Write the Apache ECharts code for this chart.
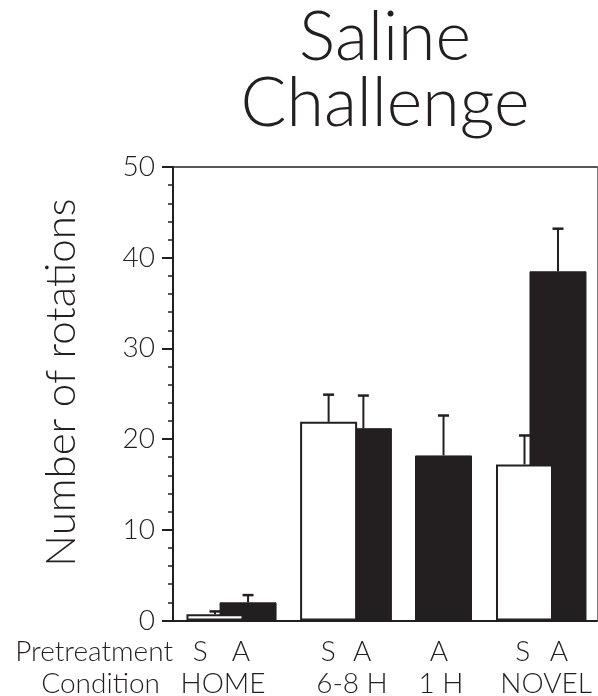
<!DOCTYPE html>
<html><head><meta charset="utf-8">
<script src="https://cdn.jsdelivr.net/npm/echarts@6/dist/echarts.min.js"></script>
<style>html,body{margin:0;padding:0;background:#fff}#c{width:598px;height:696px}</style>
</head><body><div id="c"></div>
<script>
// ---- data ----
const conditions = ['HOME', '6-8 H', '1 H', 'NOVEL'];
const pretreatments = ['S', 'A'];
const salineMean = [0.7, 21.9, null, 17.2];
const salineSem  = [0.3, 3.0, null, 3.2];
const amphMean   = [2.0, 21.2, 18.2, 38.5];
const amphSem    = [0.8, 3.6, 4.4, 4.7];
const yTicks = [0, 10, 20, 30, 40, 50];

// ---- layout (x axis runs 0..100 across the plot) ----
const barX = { S: [9.9, 36.7, null, 82.9], A: [17.7, 44.9, 63.8, 90.8] };
const pretreatLabelX = { S: [6.4, 36.6, null, 82.5], A: [16.0, 44.6, 62.7, 91.0] };
const conditionLabelX = [11.8, 42.2, 63.2, 88.0];

const INK = '#231f20';
const FONT = "Lato, 'DejaVu Sans', sans-serif";
const W = 300;

function bars(key, means) {
  const out = [];
  means.forEach((m, i) => { if (m != null) out.push([barX[key][i], m]); });
  return out;
}
function errs(key, means, sems) {
  const out = [];
  means.forEach((m, i) => { if (m != null) out.push([barX[key][i], m, sems[i]]); });
  return out;
}
const labelItems = [];
const labelTexts = [];
conditions.forEach((c, i) => {
  [['S', salineMean], ['A', amphMean]].forEach(([k, arr]) => {
    if (arr[i] != null) { labelItems.push([pretreatLabelX[k][i], 0]); labelTexts.push(pretreatments[k === 'S' ? 0 : 1]); }
  });
});
conditions.forEach((c, i) => { labelItems.push([conditionLabelX[i], 1]); labelTexts.push(c); });

function errRender(params, api) {
  const x = api.value(0), m = api.value(1), s = api.value(2);
  const b = api.coord([x, m]), t = api.coord([x, m + s]);
  return { type: 'group', children: [
    { type: 'line', shape: { x1: b[0], y1: b[1], x2: t[0], y2: t[1] }, style: { stroke: INK, lineWidth: 2 } },
    { type: 'line', shape: { x1: t[0] - 5.5, y1: t[1], x2: t[0] + 5.5, y2: t[1] }, style: { stroke: INK, lineWidth: 2.5 } }
  ]};
}

const chart = echarts.init(document.getElementById('c'), null, { renderer: 'canvas' });
chart.setOption({
  animation: false,
  backgroundColor: '#fff',
  grid: { left: 173, right: 1, top: 167, bottom: 75.5, containLabel: false },
  xAxis: [
    { type: 'value', min: 0, max: 100, axisLine: { show: true, onZero: false, lineStyle: { color: INK, width: 2 } },
      axisTick: { show: false }, axisLabel: { show: false }, splitLine: { show: false } },
    { type: 'value', position: 'top', min: 0, max: 100, axisLine: { show: true, onZero: false, lineStyle: { color: INK, width: 1.5 } },
      axisTick: { show: false }, axisLabel: { show: false }, splitLine: { show: false } }
  ],
  yAxis: [
    { type: 'value', min: yTicks[0], max: yTicks[yTicks.length - 1], interval: 10,
      axisLine: { show: true, onZero: false, lineStyle: { color: INK, width: 2 } },
      axisTick: { show: true, inside: false, length: 11, lineStyle: { color: INK, width: 2 } },
      minorTick: { show: true, splitNumber: 5, length: 5, lineStyle: { color: INK, width: 1.5 } },
      axisLabel: { margin: 18, color: INK, fontSize: 28, fontFamily: FONT, fontWeight: W },
      splitLine: { show: false } },
    { type: 'value', position: 'right', min: 0, max: 50,
      axisLine: { show: true, onZero: false, lineStyle: { color: '#777', width: 1 } },
      axisTick: { show: false }, axisLabel: { show: false }, splitLine: { show: false } }
  ],
  series: [
    { type: 'custom', name: 'S error', z: 1, renderItem: errRender, data: errs('S', salineMean, salineSem),
      encode: { x: 0, y: [1, 2] }, silent: true },
    { type: 'bar', name: 'A', z: 2, barWidth: 57, barGap: '-100%', data: bars('A', amphMean),
      itemStyle: { color: INK, borderColor: INK, borderWidth: 1 } },
    { type: 'bar', name: 'S', z: 3, barWidth: 57, barGap: '-100%', data: bars('S', salineMean),
      itemStyle: { color: '#fff', borderColor: INK, borderWidth: 2 } },
    { type: 'custom', name: 'A error', z: 4, renderItem: errRender, data: errs('A', amphMean, amphSem),
      encode: { x: 0, y: [1, 2] }, silent: true },
    { type: 'custom', name: 'labels', z: 5, silent: true, clip: false, data: labelItems, encode: { x: 0, y: 1 },
      renderItem: (params, api) => {
        const p = api.coord([api.value(0), 0]);
        const row = api.value(1);
        return { type: 'text', x: p[0], y: p[1] + (row === 0 ? 31.5 : 63.5),
          style: { text: labelTexts[params.dataIndex], fill: INK, fontSize: 28, fontFamily: FONT, fontWeight: W,
            align: 'center', verticalAlign: 'middle', textAlign: 'center', textVerticalAlign: 'middle' } };
      } }
  ],
  graphic: [
    { type: 'text', x: 385, y: 38, style: { text: 'Saline', fill: INK, fontSize: 68, fontFamily: FONT, fontWeight: W,
      align: 'center', verticalAlign: 'middle', textAlign: 'center', textVerticalAlign: 'middle' } },
    { type: 'text', x: 385, y: 104, style: { text: 'Challenge', fill: INK, fontSize: 68, fontFamily: FONT, fontWeight: W,
      align: 'center', verticalAlign: 'middle', textAlign: 'center', textVerticalAlign: 'middle' } },
    { type: 'text', x: 61.5, y: 382.5, rotation: Math.PI / 2, style: { text: 'Number of rotations', fill: INK, fontSize: 42,
      fontFamily: FONT, fontWeight: W, align: 'center', verticalAlign: 'middle', textAlign: 'center', textVerticalAlign: 'middle' } },
    { type: 'text', x: 173, y: 652, style: { text: 'Pretreatment', fill: INK, fontSize: 28, fontFamily: FONT, fontWeight: W,
      align: 'right', verticalAlign: 'middle', textAlign: 'right', textVerticalAlign: 'middle' } },
    { type: 'text', x: 160, y: 684, style: { text: 'Condition', fill: INK, fontSize: 28, fontFamily: FONT, fontWeight: W,
      align: 'right', verticalAlign: 'middle', textAlign: 'right', textVerticalAlign: 'middle' } }
  ]
});
</script></body></html>
